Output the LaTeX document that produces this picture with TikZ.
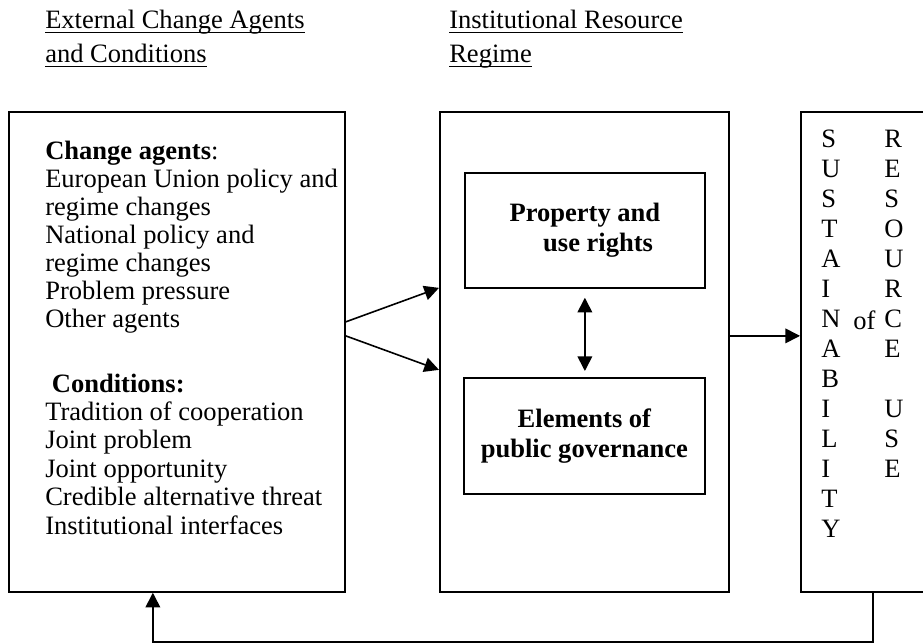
\documentclass[tikz,border=0pt]{standalone}
\usepackage{fontspec}
\setmainfont{Liberation Serif}
\usetikzlibrary{arrows.meta}

% underline at a fixed depth, crossing descenders
\newcommand{\ulhead}[1]{\setbox0\hbox{#1}\rlap{\vrule height -2pt depth 3.1pt width \wd0}\box0}

\begin{document}
\begin{tikzpicture}[
  x=0.75pt, y=-0.75pt,
  frame/.style={rectangle, draw, line width=1.3pt, anchor=north west, inner sep=0pt, minimum height=360pt},
  inbox/.style={frame, align=center, font=\fontsize{19.9pt}{22pt}\selectfont\bfseries},
  body/.style={inner sep=0pt, align=left, anchor=base west, font=\fontsize{19.9pt}{21pt}\selectfont},
  head/.style={body, font=\fontsize{19.9pt}{25.5pt}\selectfont},
  letters/.style={body, font=\fontsize{19.9pt}{22.5pt}\selectfont},
  arr/.style={-{Triangle[length=11pt, width=11pt]}, line width=1.2pt},
  darr/.style={{Triangle[length=11pt, width=11pt]}-{Triangle[length=11pt, width=11pt]}, line width=1.2pt},
]
\path[use as bounding box, clip] (0,0) rectangle (923,642);

% column headings (base = last line)
\node[head] (exthead) at (45,63) {\ulhead{External Change Agents}\\\ulhead{and Conditions}};
\node[head] (reghead) at (449,63) {\ulhead{Institutional Resource}\\\ulhead{Regime}};

% outer boxes
\node[frame, minimum width=252pt] (ext) at (8,111) {};
\node[frame, minimum width=216.75pt] (reg) at (439,111) {};
\node[frame, minimum width=108pt] (sus) at (800,111) {};

% inner boxes of the regime
\node[inbox, minimum width=180pt, minimum height=86.25pt] (prop) at (464,172) {Property and\\\hspace*{1em}use rights};
\node[inbox, minimum width=180.75pt, minimum height=87pt, text depth=4pt] (gov) at (463,377) {Elements of\\public governance};

% left box contents
\node[body] (agents) at (45,327) {\textbf{Change agents}:\\European Union policy and\\regime changes\\National policy and\\regime changes\\Problem pressure\\Other agents};
\node[body, font=\fontsize{19.9pt}{21.3pt}\selectfont] (conds) at (45,534) {\hspace*{5pt}\textbf{Conditions:}\\Tradition of cooperation\\Joint problem\\Joint opportunity\\Credible alternative threat\\Institutional interfaces};

% vertical lettering in the right box
\node[letters] (sustain) at (821,537) {S\\U\\S\\T\\A\\I\\N\\A\\B\\I\\L\\I\\T\\Y};
\node[letters] (resource) at (884,477) {R\\E\\S\\O\\U\\R\\C\\E\\[22.5pt]U\\S\\E};
\node[body] (of) at (853,329) {of};

% connectors
\draw[arr] ([yshift=22.5pt]ext.east) -- ([yshift=48pt]reg.west);
\draw[arr] ([yshift=12pt]ext.east) -- ([yshift=-13.5pt]reg.west);
\draw[darr, shorten <=6.75pt, shorten >=4.5pt] (prop.south) -- (prop.south |- gov.north);
\draw[arr] ([yshift=12pt]reg.east) -- ([yshift=12pt]sus.west);
\draw[arr] (sus.south) -- ++(0,49) -| ([xshift=-18pt]ext.south);
\end{tikzpicture}
\end{document}
